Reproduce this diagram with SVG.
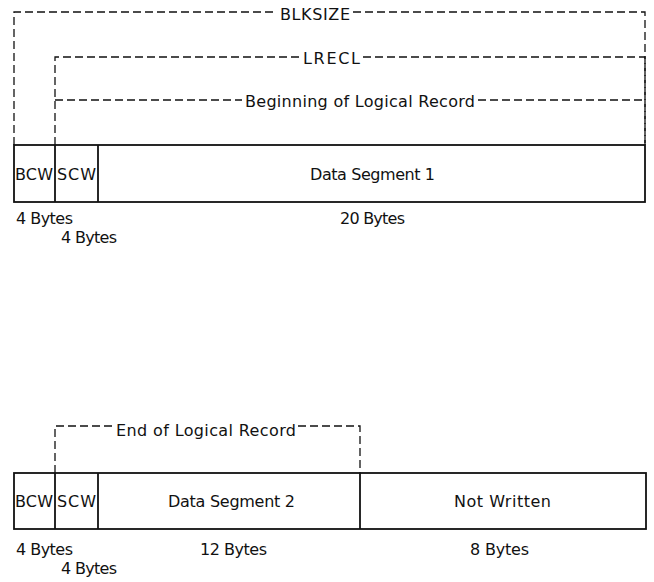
<svg xmlns="http://www.w3.org/2000/svg" width="654" height="582" viewBox="0 0 654 582">
<style>
.d{fill:none;stroke:#111;stroke-width:1.3;stroke-dasharray:8 4}
.b{fill:none;stroke:#111;stroke-width:1.8}
text{font-family:"DejaVu Sans","Liberation Sans",sans-serif;font-size:16px;fill:#111}
</style>
<rect width="654" height="582" fill="#fff"/>
<g id="connectors">
<path class="d" d="M14,145 V12 H277 M353,12 H645 V145"/>
<path class="d" d="M55,145 V57 H300 M363,57 H645 V145"/>
<path class="d" d="M55,100 H242 M478,100 H645"/>
<path class="d" d="M55,473 V426 H113 M298,426 H360 V473"/>
</g>
<g id="labels">
<text x="280" y="20" textLength="70" lengthAdjust="spacing">BLKSIZE</text>
<text x="303" y="64" textLength="57" lengthAdjust="spacing">LRECL</text>
<text x="245" y="107" textLength="230" lengthAdjust="spacing">Beginning of Logical Record</text>
<text x="116" y="436" textLength="180" lengthAdjust="spacing">End of Logical Record</text>
</g>
<g id="block1">
<rect class="b" x="14" y="145" width="631" height="57"/>
<line class="b" x1="55" y1="145" x2="55" y2="202"/>
<line class="b" x1="98" y1="145" x2="98" y2="202"/>
<text x="15" y="180" textLength="38" lengthAdjust="spacing">BCW</text>
<text x="57" y="180" textLength="39" lengthAdjust="spacing">SCW</text>
<text x="310" y="180" textLength="125" lengthAdjust="spacing">Data Segment 1</text>
<text x="16" y="224" textLength="57" lengthAdjust="spacing">4 Bytes</text>
<text x="61" y="243" textLength="56" lengthAdjust="spacing">4 Bytes</text>
<text x="340" y="224" textLength="65" lengthAdjust="spacing">20 Bytes</text>
</g>
<g id="block2">
<rect class="b" x="14" y="473" width="632" height="56"/>
<line class="b" x1="55" y1="473" x2="55" y2="529"/>
<line class="b" x1="98" y1="473" x2="98" y2="529"/>
<line class="b" x1="360" y1="473" x2="360" y2="529"/>
<text x="15" y="507" textLength="38" lengthAdjust="spacing">BCW</text>
<text x="57" y="507" textLength="39" lengthAdjust="spacing">SCW</text>
<text x="168" y="507" textLength="127" lengthAdjust="spacing">Data Segment 2</text>
<text x="454" y="507" textLength="97" lengthAdjust="spacing">Not Written</text>
<text x="16" y="555" textLength="57" lengthAdjust="spacing">4 Bytes</text>
<text x="61" y="574" textLength="56" lengthAdjust="spacing">4 Bytes</text>
<text x="200" y="555" textLength="67" lengthAdjust="spacing">12 Bytes</text>
<text x="470" y="555" textLength="59" lengthAdjust="spacing">8 Bytes</text>
</g>
</svg>
